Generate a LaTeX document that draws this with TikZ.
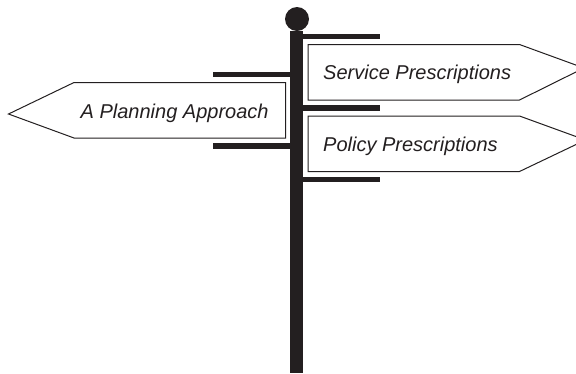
\documentclass[tikz,border=0pt]{standalone}
\usepackage{fontspec}
\setmainfont{Liberation Sans}
\definecolor{ink}{HTML}{231F20}
\tikzset{
  signboard/.style={draw=ink,line width=1pt,fill=white,line join=miter},
  arm/.style={draw=ink,line width=5.6pt},
  signtext/.style={font=\fontsize{20}{24}\selectfont\itshape,text=ink,inner sep=0pt,anchor=base west}
}
\begin{document}
\begin{tikzpicture}[x=1pt,y=-1pt]
\useasboundingbox (0,0) rectangle (576,373);
\clip (0,0) rectangle (576,373);
\fill[ink] (290,31) rectangle (303,373);
\fill[ink] (297,19) circle (12);
\draw[arm] (303,36.5) -- (380,36.5);
\draw[arm] (303,108) -- (380,108);
\draw[arm] (303,179.5) -- (380,179.5);
\draw[arm] (213,74.5) -- (290,74.5);
\draw[arm] (213,146) -- (290,146);
\draw[signboard] (308,44.5) -- (519.5,44.5) -- (584,68) -- (519.5,100) -- (308,100) -- cycle;
\draw[signboard] (308,116) -- (519.5,116) -- (585.5,140) -- (519.5,171.5) -- (308,171.5) -- cycle;
\draw[signboard] (285.5,82.5) -- (74,82.5) -- (8.5,114) -- (74,138) -- (285.5,138) -- cycle;
\node[signtext] (service) at (323,79.5) {Service Prescriptions};
\node[signtext] (policy) at (323,151) {Policy Prescriptions};
\node[signtext] (planning) at (80.5,118.5) {A Planning Approach};
\end{tikzpicture}
\end{document}
